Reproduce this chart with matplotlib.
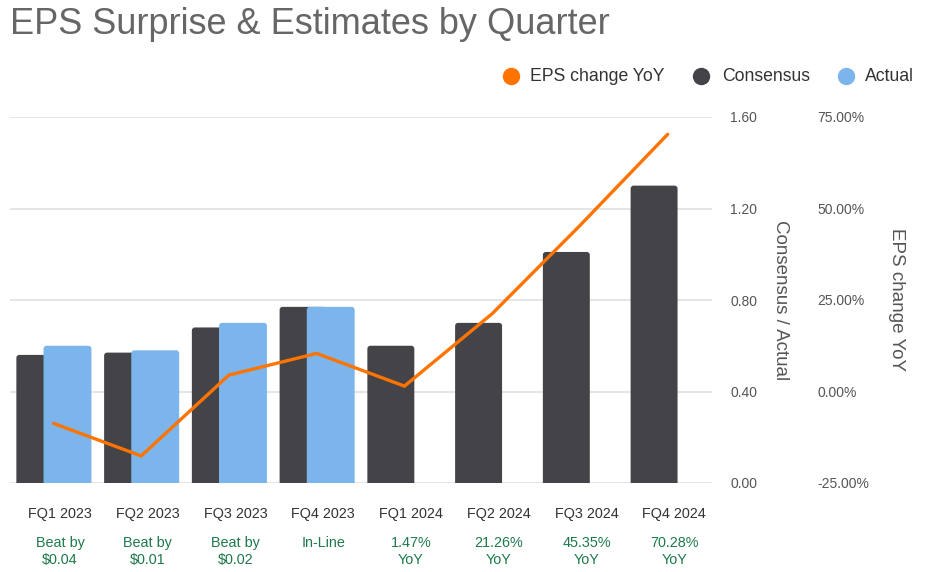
import matplotlib
matplotlib.use("Agg")
import matplotlib.pyplot as plt
import numpy as np
from matplotlib.patches import FancyBboxPatch

plt.rcParams['font.family'] = ['Liberation Sans', 'DejaVu Sans']

quarters = ["FQ1 2023", "FQ2 2023", "FQ3 2023", "FQ4 2023",
            "FQ1 2024", "FQ2 2024", "FQ3 2024", "FQ4 2024"]
consensus = [0.56, 0.57, 0.68, 0.77, 0.60, 0.70, 1.01, 1.30]
actual = [0.60, 0.58, 0.70, 0.77, None, None, None, None]
eps_change = [-8.7, -17.6, 4.5, 10.4, 1.47, 21.26, 45.35, 70.28]
surprise_labels = ["Beat by\n$0.04", "Beat by\n$0.01", "Beat by\n$0.02", "In-Line",
                   "1.47%\nYoY", "21.26%\nYoY", "45.35%\nYoY", "70.28%\nYoY"]
left_ticks = [0.0, 0.4, 0.8, 1.2, 1.6]
right_ticks = [-25, 0, 25, 50, 75]
legend_labels = ["EPS change YoY", "Consensus", "Actual"]

C_ORANGE = "#ff7400"
C_DARK = "#434348"
C_BLUE = "#7cb5ec"
C_GRID = "#e0e0e0"
C_TEXT = "#555555"
C_GREEN = "#1e7a4c"

W, H = 930, 572
fig = plt.figure(figsize=(W / 100, H / 100), dpi=100)

x0, x1 = 10, 712
ytop, ybot = 117, 483
ax = fig.add_axes([x0 / W, (H - ybot) / H, (x1 - x0) / W, (ybot - ytop) / H])
ax2 = ax.twinx()

n = len(quarters)
x = np.arange(n)
ax.set_xlim(-0.5, n - 0.5)
ax.set_ylim(0, 1.6)
ax2.set_ylim(-25, 75)

# px -> data scale for rounded corners
xu_per_px = n / (x1 - x0)
yu_per_px = 1.6 / (ybot - ytop)
r_px = 3.0


def rounded(bars, color, z):
    for b in bars:
        bx, by, bw, bh = b.get_x(), b.get_y(), b.get_width(), b.get_height()
        b.set_visible(False)
        rx = r_px * xu_per_px
        ry = r_px * yu_per_px
        p = FancyBboxPatch((bx, by - ry), bw, bh + ry,
                           boxstyle=f"round,pad=0,rounding_size={rx}",
                           mutation_aspect=yu_per_px / xu_per_px,
                           fc=color, ec='none', zorder=z)
        ax.add_patch(p)


bc = ax.bar(x - 0.16, consensus, width=0.535, color=C_DARK, zorder=2)
rounded(bc, C_DARK, 2)
ax_x = [xi + 0.155 for xi, a in zip(x, actual) if a is not None]
ax_v = [a for a in actual if a is not None]
ba = ax.bar(ax_x, ax_v, width=0.546, color=C_BLUE, zorder=3)
rounded(ba, C_BLUE, 3)

# line
ax2.plot(x - 0.005, eps_change, color=C_ORANGE, lw=2.4, solid_capstyle='round',
         solid_joinstyle='miter', zorder=5)

# grid
for t in left_ticks:
    ax.axhline(t, color=C_GRID, lw=1.2, zorder=0)

for s in ["top", "bottom", "left", "right"]:
    ax.spines[s].set_visible(False)
    ax2.spines[s].set_visible(False)

ax.yaxis.tick_right()
ax.set_yticks(left_ticks)
ax.set_yticklabels([f"{t:.2f}" for t in left_ticks])
ax.tick_params(axis='y', length=0, pad=13, labelsize=10, labelcolor=C_TEXT)
ax2.set_yticks(right_ticks)
ax2.set_yticklabels([f"{t:.2f}%" for t in right_ticks])
ax2.tick_params(axis='y', length=0, pad=76, labelsize=10, labelcolor=C_TEXT)

ax.set_xticks(x + 0.07)
ax.set_xticklabels(quarters)
ax.tick_params(axis='x', length=0, pad=17, labelsize=10.4, labelcolor="#333333")

for xi, lab in zip(x, surprise_labels):
    ax.annotate(lab, xy=(xi + 0.07, 0), xycoords=('data', 'axes fraction'),
                xytext=(0, -38), textcoords='offset points',
                ha='center', va='top', fontsize=10.4, color=C_GREEN, linespacing=1.3)

# axis titles
fig.text(780 / W, 1 - 300 / H, "Consensus / Actual", rotation=270, ha='center', va='center',
         fontsize=13.5, color=C_TEXT)
fig.text(896 / W, 1 - 300 / H, "EPS change YoY", rotation=270, ha='center', va='center',
         fontsize=13.5, color=C_TEXT)

# title
fig.text(10 / W, 1 - 25 / H, "EPS Surprise & Estimates by Quarter", ha='left', va='center',
         fontsize=26, color="#666666")

# legend (manual placement)
leg_y = 1 - 76 / H
for cx, tx, c, lab in zip((511, 701, 846), (530, 722, 865),
                          (C_ORANGE, C_DARK, C_BLUE), legend_labels):
    fig.add_artist(plt.Line2D([cx / W], [leg_y], marker='o', ls='', color=c,
                              markersize=11.5, transform=fig.transFigure))
    fig.text(tx / W, leg_y, lab, ha='left', va='center', fontsize=12.7, color="#333333")

fig.savefig("out.png", dpi=100)
